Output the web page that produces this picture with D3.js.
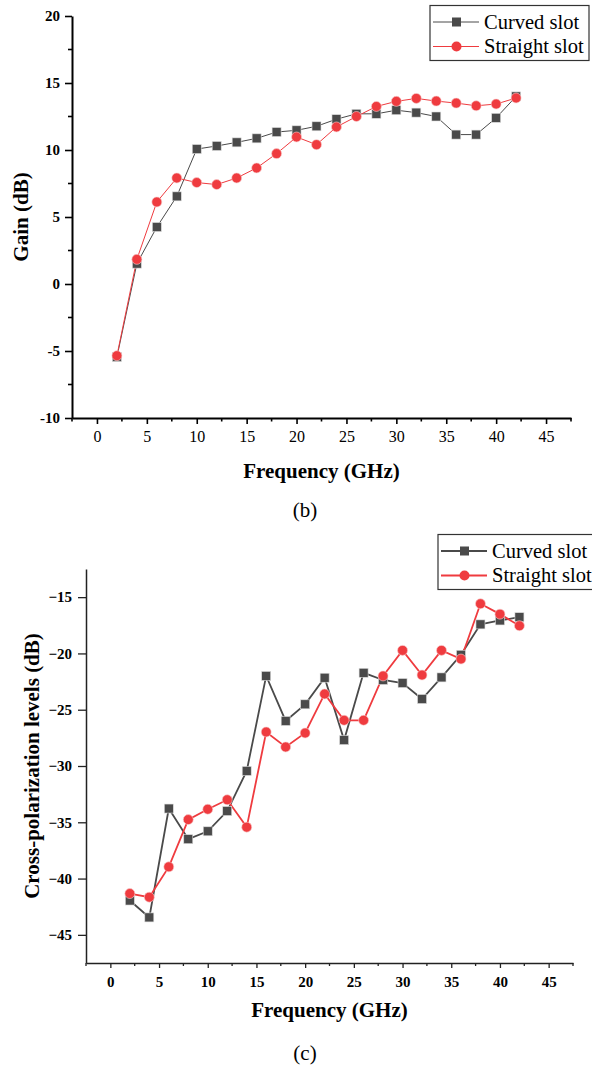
<!DOCTYPE html>
<html>
<head>
<meta charset="utf-8">
<script src="https://cdn.jsdelivr.net/npm/d3@7"></script>
<style>
  body { margin: 0; background: #fff; }
  svg { display: block; }
</style>
</head>
<body>
<div id="chart"></div>
<script>
// Frequency points (GHz), shared by both panels
var freq = [2, 4, 6, 8, 10, 12, 14, 16, 18, 20, 22, 24, 26, 28, 30, 32, 34, 36, 38, 40, 42];

// (b) Gain (dB)
var gainCurved = [-5.45, 1.52, 4.25, 6.54, 10.07, 10.3, 10.57, 10.87, 11.34, 11.47, 11.77,
  12.3, 12.7, 12.7, 12.97, 12.79, 12.5, 11.15, 11.15, 12.4, 14.0];
var gainStraight = [-5.35, 1.84, 6.12, 7.91, 7.57, 7.42, 7.91, 8.66, 9.73, 10.97, 10.4,
  11.72, 12.5, 13.25, 13.63, 13.85, 13.65, 13.5, 13.3, 13.43, 13.88];

// (c) Cross-polarization levels (dB)
var xpolCurved = [-41.95, -43.45, -33.78, -36.5, -35.8, -34.0, -30.44, -22.0, -26.0, -24.52, -22.16,
  -27.7, -21.72, -22.36, -22.63, -24.05, -22.13, -20.12, -17.42, -17.07, -16.78];
var xpolStraight = [-41.33, -41.65, -38.96, -34.76, -33.84, -33.0, -35.43, -26.98, -28.31, -27.07, -23.6,
  -25.94, -25.94, -22.0, -19.73, -21.92, -19.73, -20.5, -15.59, -16.51, -17.54];

var seriesNames = ["Curved slot", "Straight slot"];
var xTicks = [0, 5, 10, 15, 20, 25, 30, 35, 40, 45];
var gainTicks = [-10, -5, 0, 5, 10, 15, 20];
var xpolTicks = [-45, -40, -35, -30, -25, -20, -15];

var grey = "#4a4a4a";
var red = "#ef3b3f";
var serif = "'Liberation Serif', 'Times New Roman', serif";

var svg = d3.select("#chart")
  .append("svg")
  .attr("width", 592)
  .attr("height", 1065);

// draws one panel; opts hold layout + style only
function drawPanel(opts, curved, straight) {
  var x = d3.scaleLinear().domain([-2.5, 47.5]).range([opts.left, opts.right]);
  var y = d3.scaleLinear().domain(opts.yDomain).range([opts.bottom, opts.top]);

  var g = svg.append("g");

  // minor ticks
  var xMinor = d3.range(-2.5, 47.6, 5);
  var yMinor = d3.range(opts.yDomain[0] + 2.5, opts.yDomain[1] + 0.1, 5).filter(function(v) {
    return opts.yTicks.indexOf(v) < 0;
  });

  var xAxis = g.append("g")
    .attr("transform", "translate(0," + opts.bottom + ")")
    .call(d3.axisBottom(x).tickValues(xTicks).tickSize(opts.majorX).tickPadding(opts.xPad).tickSizeOuter(0));
  xAxis.selectAll(".minor").data(xMinor).enter().append("line")
    .attr("class", "minor")
    .attr("x1", function(d) { return x(d); }).attr("x2", function(d) { return x(d); })
    .attr("y1", 0).attr("y2", opts.minorX);

  var yAxis = g.append("g")
    .attr("transform", "translate(" + opts.left + ",0)")
    .call(d3.axisLeft(y).tickValues(opts.yTicks).tickSize(opts.majorY).tickPadding(opts.yPad).tickSizeOuter(0)
      .tickFormat(opts.yFormat));
  yAxis.selectAll(".minor").data(yMinor).enter().append("line")
    .attr("class", "minor")
    .attr("y1", function(d) { return y(d); }).attr("y2", function(d) { return y(d); })
    .attr("x1", 0).attr("x2", -opts.minorY);

  [xAxis, yAxis].forEach(function(ax) {
    ax.select(".domain").attr("stroke", opts.axisColor).attr("stroke-width", opts.axisWidth);
    ax.selectAll("line").attr("stroke", opts.axisColor).attr("stroke-width", opts.tickWidth);
    ax.selectAll("text").attr("fill", "#000").style("font-family", serif);
  });
  xAxis.selectAll("text").attr("font-size", opts.xTickSize).attr("font-weight", opts.xTickWeight);
  yAxis.selectAll("text").attr("font-size", opts.yTickSize).attr("font-weight", opts.yTickWeight);

  // axis titles
  g.append("text")
    .attr("x", (opts.left + opts.right) / 2)
    .attr("y", opts.xTitleY)
    .attr("text-anchor", "middle")
    .attr("font-family", serif).attr("font-weight", "bold").attr("font-size", 21)
    .text("Frequency (GHz)");

  g.append("text")
    .attr("transform", "translate(" + opts.yTitleX + "," + (opts.top + opts.bottom) / 2 + ") rotate(-90)")
    .attr("text-anchor", "middle")
    .attr("font-family", serif).attr("font-weight", "bold").attr("font-size", opts.yTitleSize)
    .text(opts.yTitle);

  g.append("text")
    .attr("x", 305)
    .attr("y", opts.capY)
    .attr("text-anchor", "middle")
    .attr("font-family", serif).attr("font-size", 21)
    .text(opts.caption);

  // lines + markers
  var line = d3.line()
    .x(function(d) { return x(d[0]); })
    .y(function(d) { return y(d[1]); });

  var curvedPts = d3.zip(freq, curved);
  var straightPts = d3.zip(freq, straight);

  g.append("path").datum(curvedPts)
    .attr("d", line).attr("fill", "none").attr("stroke", grey).attr("stroke-width", opts.lineWidth);
  g.append("path").datum(straightPts)
    .attr("d", line).attr("fill", "none").attr("stroke", red).attr("stroke-width", opts.lineWidth);

  g.selectAll(".sq").data(curvedPts).enter().append("rect")
    .attr("x", function(d) { return x(d[0]) - 4.5; })
    .attr("y", function(d) { return y(d[1]) - 4.5; })
    .attr("width", 9).attr("height", 9)
    .attr("fill", grey).attr("stroke", "#ddd").attr("stroke-width", 0.6);

  g.selectAll(".dot").data(straightPts).enter().append("circle")
    .attr("cx", function(d) { return x(d[0]); })
    .attr("cy", function(d) { return y(d[1]); })
    .attr("r", 5)
    .attr("fill", red).attr("stroke", "#f8d0d0").attr("stroke-width", 0.6);

  // legend
  var lg = g.append("g").attr("transform", "translate(" + opts.legX + "," + opts.legY + ")");
  lg.append("rect")
    .attr("x", 0).attr("y", 0).attr("width", opts.legW).attr("height", 55)
    .attr("fill", "#fff").attr("stroke", "#333").attr("stroke-width", 1.2);
  seriesNames.forEach(function(name, i) {
    var cy = 16.5 + i * 24.5;
    var col = i === 0 ? grey : red;
    lg.append("line")
      .attr("x1", 3).attr("x2", 49).attr("y1", cy).attr("y2", cy)
      .attr("stroke", col).attr("stroke-width", opts.lineWidth);
    if (i === 0) {
      lg.append("rect").attr("x", 22).attr("y", cy - 4.5).attr("width", 9).attr("height", 9).attr("fill", grey);
    } else {
      lg.append("circle").attr("cx", 26.5).attr("cy", cy).attr("r", 5).attr("fill", red);
    }
    lg.append("text")
      .attr("x", 54).attr("y", cy + 6.5)
      .attr("font-family", serif).attr("font-size", 20.5)
      .text(name);
  });
}

// (b) Gain panel
drawPanel({
  left: 72, right: 571, top: 16, bottom: 418,
  yDomain: [-10, 20], yTicks: gainTicks,
  yFormat: function(d) { return String(d); },
  majorX: 6, minorX: 3.5, majorY: 7, minorY: 4, xPad: 7, yPad: 5,
  axisColor: "#000", axisWidth: 2, tickWidth: 1.6,
  xTickSize: 16, xTickWeight: "normal", yTickSize: 15, yTickWeight: "bold",
  xTitleY: 478, yTitleX: 28, yTitle: "Gain (dB)", yTitleSize: 21,
  capY: 517, caption: "(b)",
  lineWidth: 1,
  legX: 430, legY: 5.5, legW: 159
}, gainCurved, gainStraight);

// (c) Cross-polarization panel
drawPanel({
  left: 86, right: 573, top: 569, bottom: 963,
  yDomain: [-47.5, -12.5], yTicks: xpolTicks,
  yFormat: function(d) { return "\u2212" + Math.abs(d); },
  majorX: 5, minorX: 3, majorY: 8, minorY: 4.5, xPad: 8, yPad: 6,
  axisColor: "#222", axisWidth: 1.5, tickWidth: 1.3,
  xTickSize: 15, xTickWeight: "bold", yTickSize: 15, yTickWeight: "bold",
  xTitleY: 1017, yTitleX: 39, yTitle: "Cross-polarization levels (dB)", yTitleSize: 21,
  capY: 1060, caption: "(c)",
  lineWidth: 1.8,
  legX: 438, legY: 534.5, legW: 160
}, xpolCurved, xpolStraight);
</script>
</body>
</html>
